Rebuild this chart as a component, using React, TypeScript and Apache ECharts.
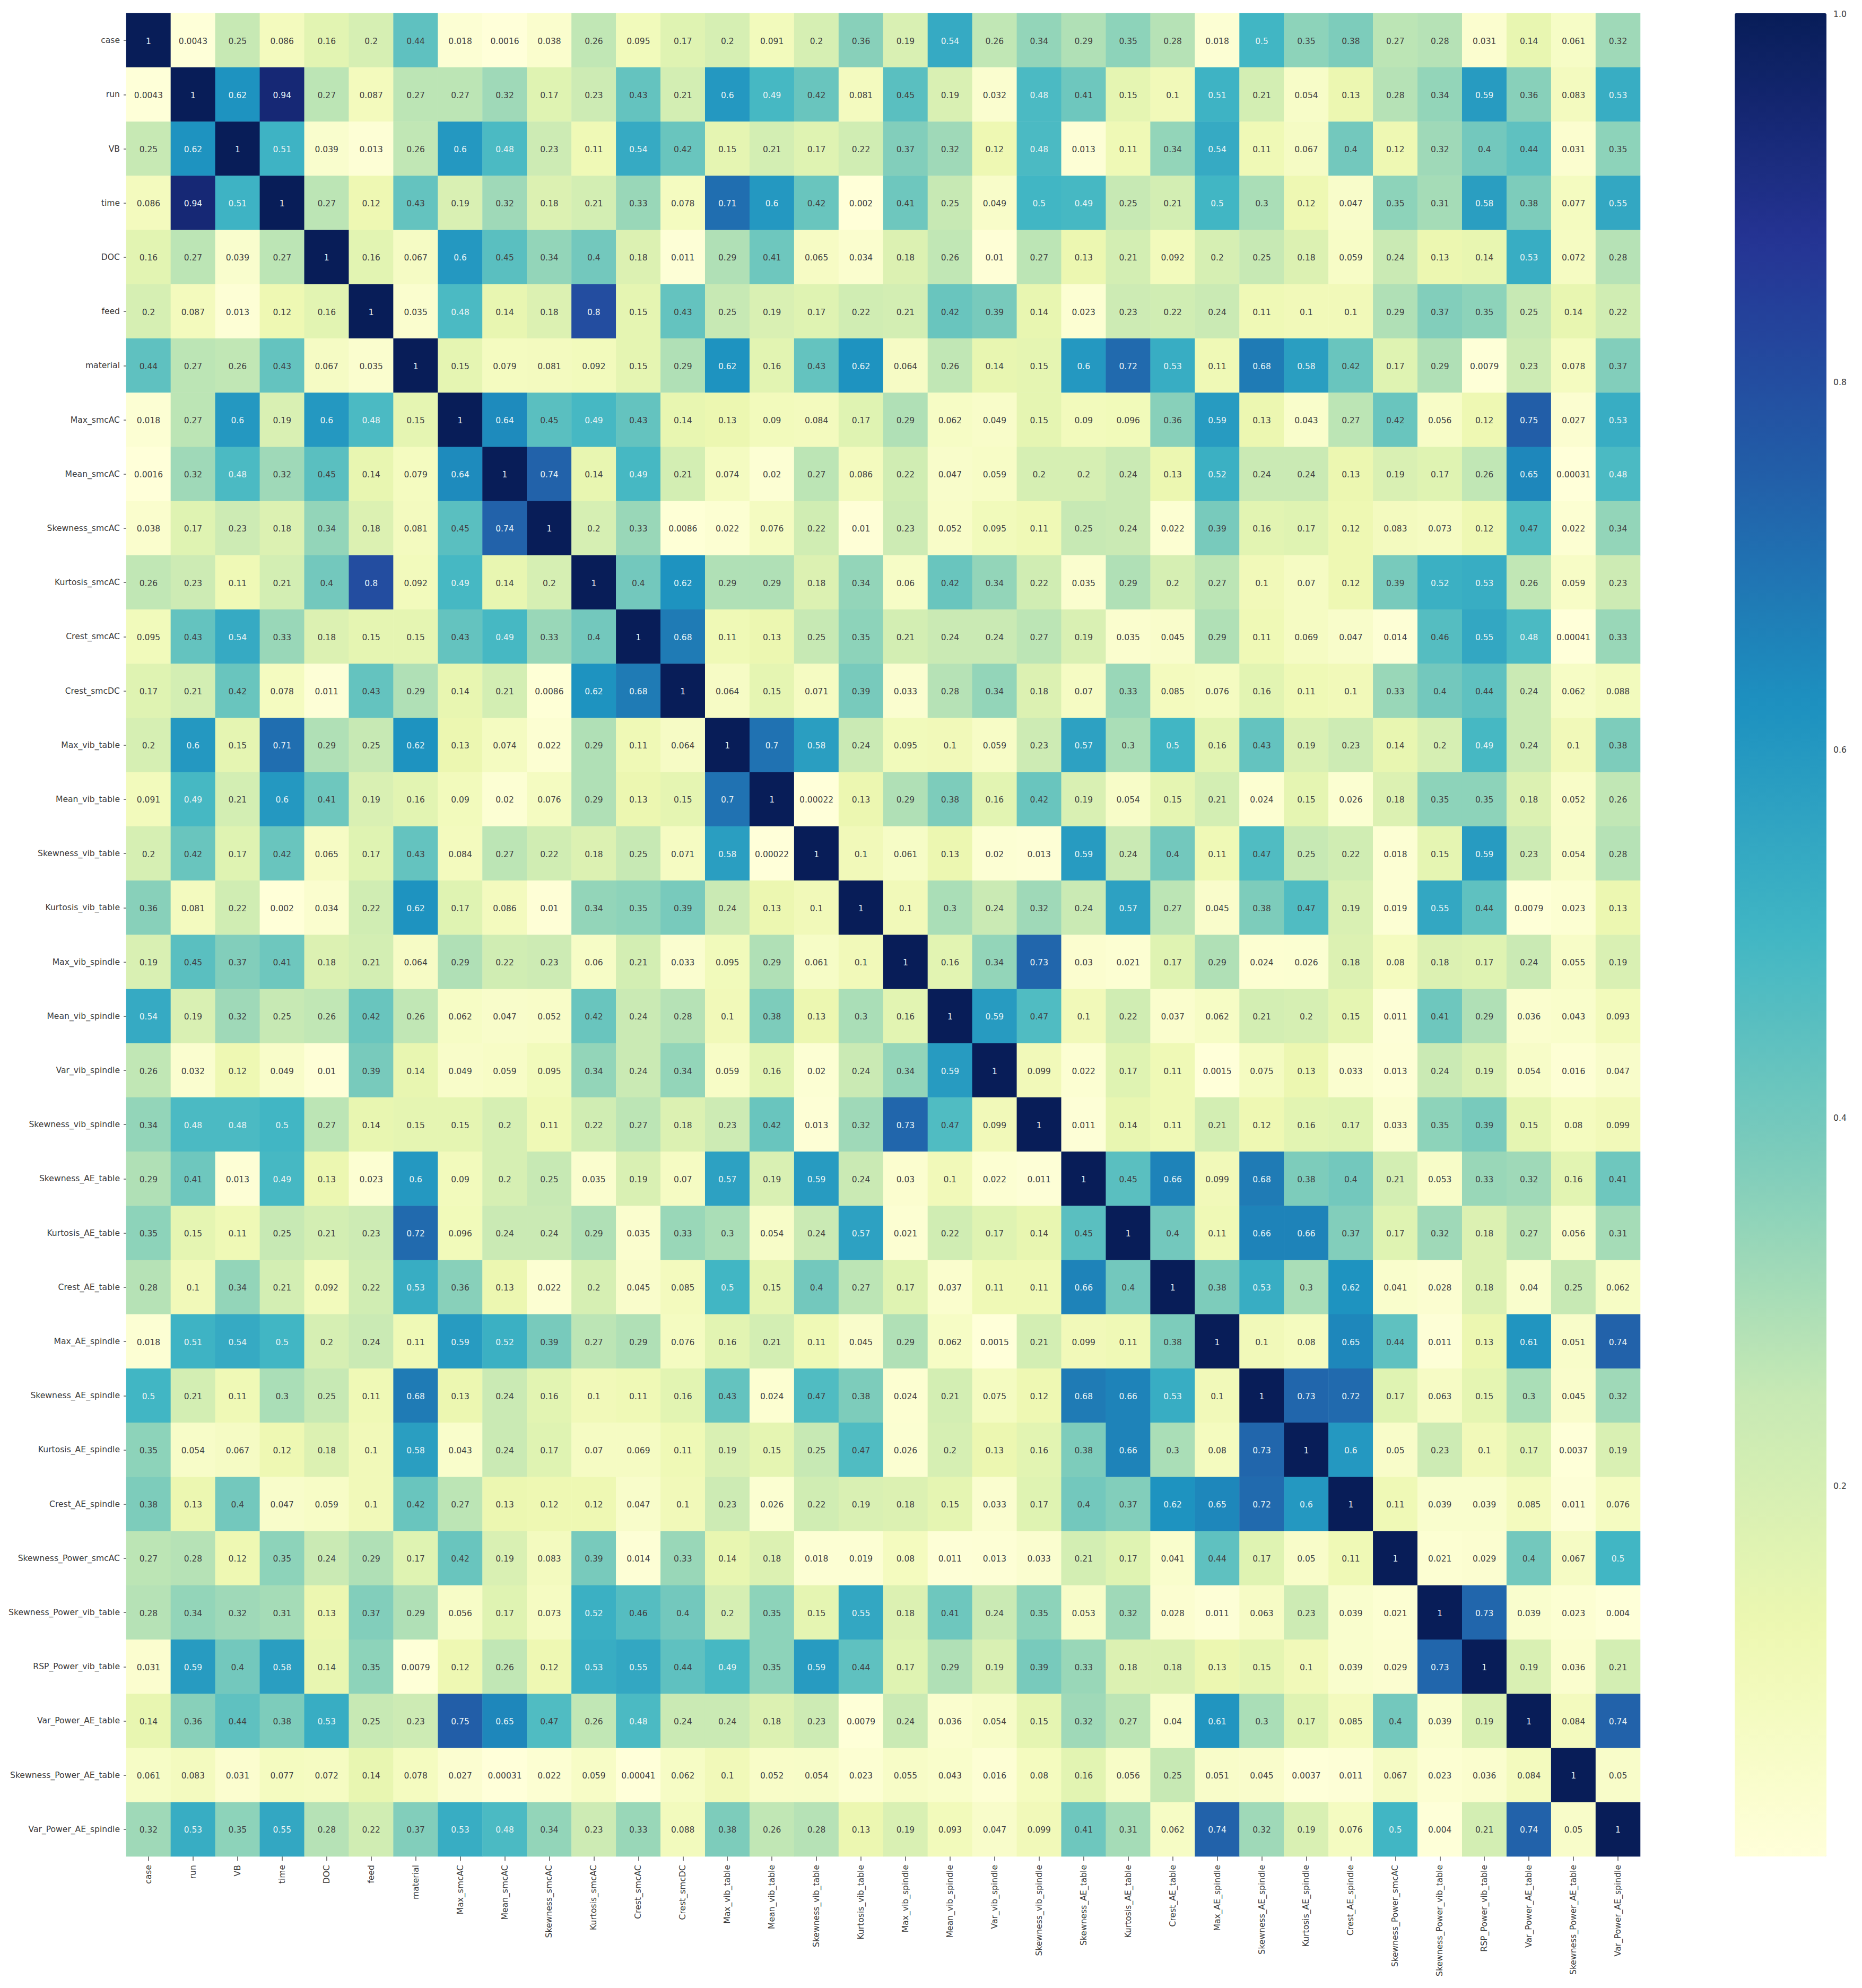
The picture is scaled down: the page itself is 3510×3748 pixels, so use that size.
import React, { useEffect, useRef } from "react";
import * as echarts from "echarts";

const categories = ["case","run","VB","time","DOC","feed","material","Max_smcAC","Mean_smcAC","Skewness_smcAC","Kurtosis_smcAC","Crest_smcAC","Crest_smcDC","Max_vib_table","Mean_vib_table","Skewness_vib_table","Kurtosis_vib_table","Max_vib_spindle","Mean_vib_spindle","Var_vib_spindle","Skewness_vib_spindle","Skewness_AE_table","Kurtosis_AE_table","Crest_AE_table","Max_AE_spindle","Skewness_AE_spindle","Kurtosis_AE_spindle","Crest_AE_spindle","Skewness_Power_smcAC","Skewness_Power_vib_table","RSP_Power_vib_table","Var_Power_AE_table","Skewness_Power_AE_table","Var_Power_AE_spindle"];

const rowCase = [1,0.0043,0.25,0.086,0.16,0.2,0.44,0.018,0.0016,0.038,0.26,0.095,0.17,0.2,0.091,0.2,0.36,0.19,0.54,0.26,0.34,0.29,0.35,0.28,0.018,0.5,0.35,0.38,0.27,0.28,0.031,0.14,0.061,0.32];
const rowRun = [0.0043,1,0.62,0.94,0.27,0.087,0.27,0.27,0.32,0.17,0.23,0.43,0.21,0.6,0.49,0.42,0.081,0.45,0.19,0.032,0.48,0.41,0.15,0.1,0.51,0.21,0.054,0.13,0.28,0.34,0.59,0.36,0.083,0.53];
const rowVB = [0.25,0.62,1,0.51,0.039,0.013,0.26,0.6,0.48,0.23,0.11,0.54,0.42,0.15,0.21,0.17,0.22,0.37,0.32,0.12,0.48,0.013,0.11,0.34,0.54,0.11,0.067,0.4,0.12,0.32,0.4,0.44,0.031,0.35];
const rowTime = [0.086,0.94,0.51,1,0.27,0.12,0.43,0.19,0.32,0.18,0.21,0.33,0.078,0.71,0.6,0.42,0.002,0.41,0.25,0.049,0.5,0.49,0.25,0.21,0.5,0.3,0.12,0.047,0.35,0.31,0.58,0.38,0.077,0.55];
const rowDOC = [0.16,0.27,0.039,0.27,1,0.16,0.067,0.6,0.45,0.34,0.4,0.18,0.011,0.29,0.41,0.065,0.034,0.18,0.26,0.01,0.27,0.13,0.21,0.092,0.2,0.25,0.18,0.059,0.24,0.13,0.14,0.53,0.072,0.28];
const rowFeed = [0.2,0.087,0.013,0.12,0.16,1,0.035,0.48,0.14,0.18,0.8,0.15,0.43,0.25,0.19,0.17,0.22,0.21,0.42,0.39,0.14,0.023,0.23,0.22,0.24,0.11,0.1,0.1,0.29,0.37,0.35,0.25,0.14,0.22];
const rowMaterial = [0.44,0.27,0.26,0.43,0.067,0.035,1,0.15,0.079,0.081,0.092,0.15,0.29,0.62,0.16,0.43,0.62,0.064,0.26,0.14,0.15,0.6,0.72,0.53,0.11,0.68,0.58,0.42,0.17,0.29,0.0079,0.23,0.078,0.37];
const rowMaxSmcAC = [0.018,0.27,0.6,0.19,0.6,0.48,0.15,1,0.64,0.45,0.49,0.43,0.14,0.13,0.09,0.084,0.17,0.29,0.062,0.049,0.15,0.09,0.096,0.36,0.59,0.13,0.043,0.27,0.42,0.056,0.12,0.75,0.027,0.53];
const rowMeanSmcAC = [0.0016,0.32,0.48,0.32,0.45,0.14,0.079,0.64,1,0.74,0.14,0.49,0.21,0.074,0.02,0.27,0.086,0.22,0.047,0.059,0.2,0.2,0.24,0.13,0.52,0.24,0.24,0.13,0.19,0.17,0.26,0.65,0.00031,0.48];
const rowSkewSmcAC = [0.038,0.17,0.23,0.18,0.34,0.18,0.081,0.45,0.74,1,0.2,0.33,0.0086,0.022,0.076,0.22,0.01,0.23,0.052,0.095,0.11,0.25,0.24,0.022,0.39,0.16,0.17,0.12,0.083,0.073,0.12,0.47,0.022,0.34];
const rowKurtSmcAC = [0.26,0.23,0.11,0.21,0.4,0.8,0.092,0.49,0.14,0.2,1,0.4,0.62,0.29,0.29,0.18,0.34,0.06,0.42,0.34,0.22,0.035,0.29,0.2,0.27,0.1,0.07,0.12,0.39,0.52,0.53,0.26,0.059,0.23];
const rowCrestSmcAC = [0.095,0.43,0.54,0.33,0.18,0.15,0.15,0.43,0.49,0.33,0.4,1,0.68,0.11,0.13,0.25,0.35,0.21,0.24,0.24,0.27,0.19,0.035,0.045,0.29,0.11,0.069,0.047,0.014,0.46,0.55,0.48,0.00041,0.33];
const rowCrestSmcDC = [0.17,0.21,0.42,0.078,0.011,0.43,0.29,0.14,0.21,0.0086,0.62,0.68,1,0.064,0.15,0.071,0.39,0.033,0.28,0.34,0.18,0.07,0.33,0.085,0.076,0.16,0.11,0.1,0.33,0.4,0.44,0.24,0.062,0.088];
const rowMaxVibTable = [0.2,0.6,0.15,0.71,0.29,0.25,0.62,0.13,0.074,0.022,0.29,0.11,0.064,1,0.7,0.58,0.24,0.095,0.1,0.059,0.23,0.57,0.3,0.5,0.16,0.43,0.19,0.23,0.14,0.2,0.49,0.24,0.1,0.38];
const rowMeanVibTable = [0.091,0.49,0.21,0.6,0.41,0.19,0.16,0.09,0.02,0.076,0.29,0.13,0.15,0.7,1,0.00022,0.13,0.29,0.38,0.16,0.42,0.19,0.054,0.15,0.21,0.024,0.15,0.026,0.18,0.35,0.35,0.18,0.052,0.26];
const rowSkewVibTable = [0.2,0.42,0.17,0.42,0.065,0.17,0.43,0.084,0.27,0.22,0.18,0.25,0.071,0.58,0.00022,1,0.1,0.061,0.13,0.02,0.013,0.59,0.24,0.4,0.11,0.47,0.25,0.22,0.018,0.15,0.59,0.23,0.054,0.28];
const rowKurtVibTable = [0.36,0.081,0.22,0.002,0.034,0.22,0.62,0.17,0.086,0.01,0.34,0.35,0.39,0.24,0.13,0.1,1,0.1,0.3,0.24,0.32,0.24,0.57,0.27,0.045,0.38,0.47,0.19,0.019,0.55,0.44,0.0079,0.023,0.13];
const rowMaxVibSpindle = [0.19,0.45,0.37,0.41,0.18,0.21,0.064,0.29,0.22,0.23,0.06,0.21,0.033,0.095,0.29,0.061,0.1,1,0.16,0.34,0.73,0.03,0.021,0.17,0.29,0.024,0.026,0.18,0.08,0.18,0.17,0.24,0.055,0.19];
const rowMeanVibSpindle = [0.54,0.19,0.32,0.25,0.26,0.42,0.26,0.062,0.047,0.052,0.42,0.24,0.28,0.1,0.38,0.13,0.3,0.16,1,0.59,0.47,0.1,0.22,0.037,0.062,0.21,0.2,0.15,0.011,0.41,0.29,0.036,0.043,0.093];
const rowVarVibSpindle = [0.26,0.032,0.12,0.049,0.01,0.39,0.14,0.049,0.059,0.095,0.34,0.24,0.34,0.059,0.16,0.02,0.24,0.34,0.59,1,0.099,0.022,0.17,0.11,0.0015,0.075,0.13,0.033,0.013,0.24,0.19,0.054,0.016,0.047];
const rowSkewVibSpindle = [0.34,0.48,0.48,0.5,0.27,0.14,0.15,0.15,0.2,0.11,0.22,0.27,0.18,0.23,0.42,0.013,0.32,0.73,0.47,0.099,1,0.011,0.14,0.11,0.21,0.12,0.16,0.17,0.033,0.35,0.39,0.15,0.08,0.099];
const rowSkewAETable = [0.29,0.41,0.013,0.49,0.13,0.023,0.6,0.09,0.2,0.25,0.035,0.19,0.07,0.57,0.19,0.59,0.24,0.03,0.1,0.022,0.011,1,0.45,0.66,0.099,0.68,0.38,0.4,0.21,0.053,0.33,0.32,0.16,0.41];
const rowKurtAETable = [0.35,0.15,0.11,0.25,0.21,0.23,0.72,0.096,0.24,0.24,0.29,0.035,0.33,0.3,0.054,0.24,0.57,0.021,0.22,0.17,0.14,0.45,1,0.4,0.11,0.66,0.66,0.37,0.17,0.32,0.18,0.27,0.056,0.31];
const rowCrestAETable = [0.28,0.1,0.34,0.21,0.092,0.22,0.53,0.36,0.13,0.022,0.2,0.045,0.085,0.5,0.15,0.4,0.27,0.17,0.037,0.11,0.11,0.66,0.4,1,0.38,0.53,0.3,0.62,0.041,0.028,0.18,0.04,0.25,0.062];
const rowMaxAESpindle = [0.018,0.51,0.54,0.5,0.2,0.24,0.11,0.59,0.52,0.39,0.27,0.29,0.076,0.16,0.21,0.11,0.045,0.29,0.062,0.0015,0.21,0.099,0.11,0.38,1,0.1,0.08,0.65,0.44,0.011,0.13,0.61,0.051,0.74];
const rowSkewAESpindle = [0.5,0.21,0.11,0.3,0.25,0.11,0.68,0.13,0.24,0.16,0.1,0.11,0.16,0.43,0.024,0.47,0.38,0.024,0.21,0.075,0.12,0.68,0.66,0.53,0.1,1,0.73,0.72,0.17,0.063,0.15,0.3,0.045,0.32];
const rowKurtAESpindle = [0.35,0.054,0.067,0.12,0.18,0.1,0.58,0.043,0.24,0.17,0.07,0.069,0.11,0.19,0.15,0.25,0.47,0.026,0.2,0.13,0.16,0.38,0.66,0.3,0.08,0.73,1,0.6,0.05,0.23,0.1,0.17,0.0037,0.19];
const rowCrestAESpindle = [0.38,0.13,0.4,0.047,0.059,0.1,0.42,0.27,0.13,0.12,0.12,0.047,0.1,0.23,0.026,0.22,0.19,0.18,0.15,0.033,0.17,0.4,0.37,0.62,0.65,0.72,0.6,1,0.11,0.039,0.039,0.085,0.011,0.076];
const rowSkewPowerSmcAC = [0.27,0.28,0.12,0.35,0.24,0.29,0.17,0.42,0.19,0.083,0.39,0.014,0.33,0.14,0.18,0.018,0.019,0.08,0.011,0.013,0.033,0.21,0.17,0.041,0.44,0.17,0.05,0.11,1,0.021,0.029,0.4,0.067,0.5];
const rowSkewPowerVibTable = [0.28,0.34,0.32,0.31,0.13,0.37,0.29,0.056,0.17,0.073,0.52,0.46,0.4,0.2,0.35,0.15,0.55,0.18,0.41,0.24,0.35,0.053,0.32,0.028,0.011,0.063,0.23,0.039,0.021,1,0.73,0.039,0.023,0.004];
const rowRspPowerVibTable = [0.031,0.59,0.4,0.58,0.14,0.35,0.0079,0.12,0.26,0.12,0.53,0.55,0.44,0.49,0.35,0.59,0.44,0.17,0.29,0.19,0.39,0.33,0.18,0.18,0.13,0.15,0.1,0.039,0.029,0.73,1,0.19,0.036,0.21];
const rowVarPowerAETable = [0.14,0.36,0.44,0.38,0.53,0.25,0.23,0.75,0.65,0.47,0.26,0.48,0.24,0.24,0.18,0.23,0.0079,0.24,0.036,0.054,0.15,0.32,0.27,0.04,0.61,0.3,0.17,0.085,0.4,0.039,0.19,1,0.084,0.74];
const rowSkewPowerAETable = [0.061,0.083,0.031,0.077,0.072,0.14,0.078,0.027,0.00031,0.022,0.059,0.00041,0.062,0.1,0.052,0.054,0.023,0.055,0.043,0.016,0.08,0.16,0.056,0.25,0.051,0.045,0.0037,0.011,0.067,0.023,0.036,0.084,1,0.05];
const rowVarPowerAESpindle = [0.32,0.53,0.35,0.55,0.28,0.22,0.37,0.53,0.48,0.34,0.23,0.33,0.088,0.38,0.26,0.28,0.13,0.19,0.093,0.047,0.099,0.41,0.31,0.062,0.74,0.32,0.19,0.076,0.5,0.004,0.21,0.74,0.05,1];

const matrix = [rowCase,rowRun,rowVB,rowTime,rowDOC,rowFeed,rowMaterial,rowMaxSmcAC,rowMeanSmcAC,rowSkewSmcAC,rowKurtSmcAC,rowCrestSmcAC,rowCrestSmcDC,rowMaxVibTable,rowMeanVibTable,rowSkewVibTable,rowKurtVibTable,rowMaxVibSpindle,rowMeanVibSpindle,rowVarVibSpindle,rowSkewVibSpindle,rowSkewAETable,rowKurtAETable,rowCrestAETable,rowMaxAESpindle,rowSkewAESpindle,rowKurtAESpindle,rowCrestAESpindle,rowSkewPowerSmcAC,rowSkewPowerVibTable,rowRspPowerVibTable,rowVarPowerAETable,rowSkewPowerAETable,rowVarPowerAESpindle];

const colorbarTicks = [0.2, 0.4, 0.6, 0.8, 1];
const palette = ["#ffffd9","#edf8b1","#c7e9b4","#7fcdbb","#41b6c4","#1d91c0","#225ea8","#253494","#081d58"];

const FONT = "DejaVu Sans";
const DARK_TEXT = "#424242";
const LIGHT_TEXT = "#e8f3f6";
const TICK_COLOR = "#555555";
const GRID = { left: 238, top: 25, width: 2854, height: 3475 };
const BAR = { left: 3270, top: 25, width: 173, height: 3475 };
const BAR_AXIS = { left: 3270, top: 27, width: 173, height: 3473 };

export default function App() {
  const ref = useRef<HTMLDivElement>(null);
  useEffect(() => {
    const chart = echarts.init(ref.current!, undefined, { renderer: "svg" });
    const data: any[] = [];
    matrix.forEach((row, y) =>
      row.forEach((v, x) => {
        data.push({
          value: [x, y, v],
          label: { color: v >= 0.48 ? LIGHT_TEXT : DARK_TEXT },
        });
      })
    );
    const tickLabel = { fontFamily: FONT, fontSize: 15.6, color: "#3a3a3a" };
    const tickLine = { color: TICK_COLOR, width: 1.5 };
    chart.setOption({
      animation: false,
      backgroundColor: "#ffffff",
      grid: [
        { ...GRID, containLabel: false },
        { ...BAR_AXIS, containLabel: false },
      ],
      xAxis: [
        {
          gridIndex: 0,
          type: "category",
          data: categories,
          position: "bottom",
          splitArea: { show: false },
          splitLine: { show: false },
          axisLine: { show: false },
          axisTick: { show: true, alignWithLabel: true, length: 8, lineStyle: tickLine },
          axisLabel: { ...tickLabel, interval: 0, rotate: 90, margin: 16 },
        },
        { gridIndex: 1, type: "value", show: false, min: 0, max: 1 },
      ],
      yAxis: [
        {
          gridIndex: 0,
          type: "category",
          data: categories,
          inverse: true,
          splitArea: { show: false },
          splitLine: { show: false },
          axisLine: { show: false },
          axisTick: { show: true, alignWithLabel: true, length: 5, lineStyle: tickLine },
          axisLabel: { ...tickLabel, interval: 0, margin: 12, padding: [6, 0, 0, 0] },
        },
        {
          gridIndex: 1,
          type: "value",
          position: "right",
          min: -0.0013,
          max: 1,
          splitLine: { show: false },
          axisLine: { show: false },
          axisTick: { show: true, length: 7, customValues: colorbarTicks, lineStyle: tickLine },
          axisLabel: {
            ...tickLabel,
            margin: 13,
            padding: [2, 0, 0, 0],
            customValues: colorbarTicks,
            formatter: (v: number) => v.toFixed(1),
          },
        },
      ],
      visualMap: {
        type: "continuous",
        seriesIndex: 0,
        min: 0.00022,
        max: 1,
        calculable: false,
        hoverLink: false,
        showLabel: false,
        text: ["", ""],
        orient: "vertical",
        left: BAR.left,
        top: BAR.top,
        padding: 0,
        itemWidth: BAR.width,
        itemHeight: BAR.height,
        inRange: { color: palette },
      },
      series: [
        {
          type: "heatmap",
          xAxisIndex: 0,
          yAxisIndex: 0,
          data,
          itemStyle: { borderWidth: 0 },
          label: {
            show: true,
            fontFamily: FONT,
            fontSize: 15.5,
            offset: [0, 1.5],
            formatter: (p: any) => String(p.value[2]),
          },
          emphasis: { disabled: true },
        },
      ],
    });
    return () => chart.dispose();
  }, []);
  return (
    <div
      ref={ref}
      style={{ position: "absolute", left: 0, top: 0, width: 3510, height: 3748 }}
    />
  );
}
